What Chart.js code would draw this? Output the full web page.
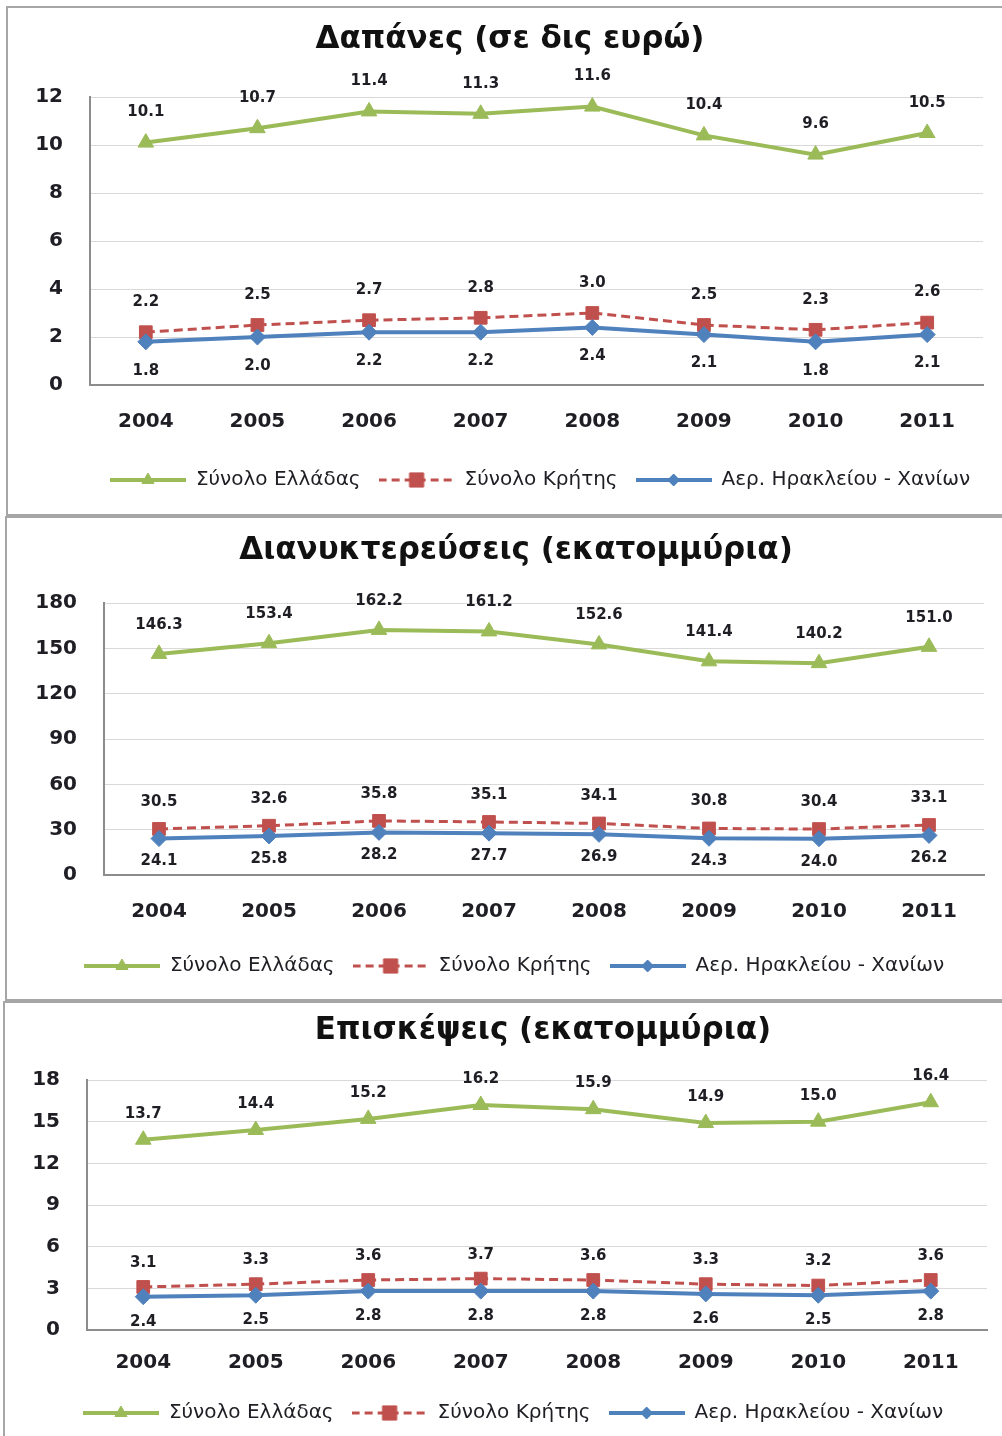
<!DOCTYPE html>
<html lang="el">
<head>
<meta charset="utf-8">
<title>Δαπάνες, διανυκτερεύσεις, επισκέψεις 2004-2011</title>
<script src="https://cdn.jsdelivr.net/npm/chart.js@4.4.1/dist/chart.umd.min.js"></script>
<style>
  html, body { margin: 0; padding: 0; background: #fff; overflow: hidden; }
  body { width: 1002px; height: 1436px; position: relative; }
  .panel { position: absolute; box-sizing: border-box; border: 2px solid #a6a6a6; border-right: none; }
  canvas { position: absolute; left: 0; }
</style>
</head>
<body>
<div class="panel" style="left:6px; top:6px; width:1100px; height:510px;"></div>
<div class="panel" style="left:5px; top:516px; width:1100px; height:485px;"></div>
<div class="panel" style="left:3px; top:1001px; width:1100px; height:500px;"></div>
<canvas id="chartDapanes" width="1002" height="507" style="top:7px;"></canvas>
<canvas id="chartDianyktereuseis" width="1002" height="481" style="top:518px;"></canvas>
<canvas id="chartEpiskepseis" width="1002" height="433" style="top:1003px;"></canvas>
<script>
// Έτη
const years = ['2004', '2005', '2006', '2007', '2008', '2009', '2010', '2011'];
const seriesNames = ['Σύνολο Ελλάδας', 'Σύνολο Κρήτης', 'Αερ. Ηρακλείου - Χανίων'];

// Δαπάνες (δις ευρώ)
const spendGreece  = [10.1, 10.7, 11.4, 11.3, 11.6, 10.4, 9.6, 10.5];
const spendCrete   = [2.2, 2.5, 2.7, 2.8, 3.0, 2.5, 2.3, 2.6];
const spendAirport = [1.8, 2.0, 2.2, 2.2, 2.4, 2.1, 1.8, 2.1];
const spendTicks   = [0, 2, 4, 6, 8, 10, 12];

// Διανυκτερεύσεις (εκατομμύρια)
const nightsGreece  = [146.3, 153.4, 162.2, 161.2, 152.6, 141.4, 140.2, 151.0];
const nightsCrete   = [30.5, 32.6, 35.8, 35.1, 34.1, 30.8, 30.4, 33.1];
const nightsAirport = [24.1, 25.8, 28.2, 27.7, 26.9, 24.3, 24.0, 26.2];
const nightsTicks   = [0, 30, 60, 90, 120, 150, 180];

// Επισκέψεις (εκατομμύρια)
const visitsGreece  = [13.7, 14.4, 15.2, 16.2, 15.9, 14.9, 15.0, 16.4];
const visitsCrete   = [3.1, 3.3, 3.6, 3.7, 3.6, 3.3, 3.2, 3.6];
const visitsAirport = [2.4, 2.5, 2.8, 2.8, 2.8, 2.6, 2.5, 2.8];
const visitsTicks   = [0, 3, 6, 9, 12, 15, 18];

Chart.defaults.font.family = '"DejaVu Sans", Verdana, sans-serif';

const GREEN = '#9BBB59', RED = '#C0504D', BLUE = '#4F81BD';
const TEXT = '#1e1e24';

// εικονίδια υπομνήματος: γραμμή με το σημάδι στη μέση
function legendIcon(color, dash, style, radius) {
  const c = document.createElement('canvas');
  c.width = 76; c.height = 18;
  const g = c.getContext('2d');
  g.strokeStyle = color;
  g.lineWidth = dash.length ? 3 : 4;
  g.setLineDash(dash);
  g.beginPath(); g.moveTo(0, 9); g.lineTo(76, 9); g.stroke();
  g.setLineDash([]);
  g.fillStyle = color;
  g.lineWidth = 1;
  Chart.helpers.drawPoint(g, {pointStyle: style, radius: radius, rotation: 0, borderWidth: 1}, 38, 9);
  return c;
}
const icons = [
  legendIcon(GREEN, [], 'triangle', 7),
  legendIcon(RED, [8, 5], 'rect', 10),
  legendIcon(BLUE, [], 'rectRot', 6)
];

// τιμές πάνω/κάτω από κάθε σημείο
const valueLabels = {
  id: 'valueLabels',
  afterDatasetsDraw(chart, args, opts) {
    const ctx = chart.ctx;
    ctx.save();
    ctx.font = 'bold 15px "DejaVu Sans"';
    ctx.fillStyle = TEXT;
    ctx.textAlign = 'center';
    ctx.textBaseline = 'middle';
    chart.data.datasets.forEach((ds, i) => {
      chart.getDatasetMeta(i).data.forEach((pt, j) => {
        ctx.fillText(ds.data[j].toFixed(1), pt.x, pt.y + opts.offsets[i]);
      });
    });
    ctx.restore();
  }
};

// τίτλος και υπόμνημα κεντραρισμένα σε δικό τους x
const blockShift = {
  id: 'blockShift',
  afterLayout(chart, args, opts) {
    [[chart.titleBlock, opts.titleX], [chart.legend, opts.legendX]].forEach(([box, x]) => {
      const dx = x - (box.left + box.right) / 2;
      box.left += dx;
      box.right += dx;
    });
  }
};

function makeChart(id, title, values, ticks, geo) {
  const titleSize = 31, titleLine = titleSize * 1.2;
  const legendFont = 20, legendPad = 18;
  const legendH = legendFont + legendPad + 10;
  const legendTop = geo.legendY - legendPad - legendFont / 2;
  const canvasH = document.getElementById(id).height;
  const padLeft = 5;

  return new Chart(document.getElementById(id), {
    type: 'line',
    data: {
      labels: years,
      datasets: [
        {
          label: seriesNames[0], data: values[0], order: 3,
          borderColor: GREEN, backgroundColor: GREEN, borderWidth: 4,
          pointStyle: 'triangle', pointRadius: 9, pointBorderWidth: 1, tension: 0
        },
        {
          label: seriesNames[1], data: values[1], order: 2,
          borderColor: RED, backgroundColor: RED, borderWidth: 3, borderDash: [9, 5],
          pointStyle: 'rect', pointRadius: 9, pointBorderWidth: 1, tension: 0
        },
        {
          label: seriesNames[2], data: values[2], order: 1,
          borderColor: BLUE, backgroundColor: BLUE, borderWidth: 4,
          pointStyle: 'rectRot', pointRadius: 8, pointBorderWidth: 1, tension: 0
        }
      ]
    },
    options: {
      responsive: false,
      animation: false,
      layout: {
        padding: { left: padLeft, right: 1002 - geo.right, top: 0, bottom: canvasH - legendTop - legendH }
      },
      plugins: {
        tooltip: { enabled: false },
        title: {
          display: true, text: title, color: '#111',
          font: { size: titleSize, weight: 'bold' },
          padding: { top: geo.titleY - titleLine / 2, bottom: geo.top - geo.titleY - titleLine / 2 }
        },
        legend: {
          position: 'bottom',
          labels: {
            usePointStyle: true, pointStyleWidth: 76, padding: legendPad,
            color: TEXT, font: { size: legendFont },
            generateLabels: (chart) => chart.data.datasets.map((ds, i) => ({
              text: ds.label, pointStyle: icons[i], datasetIndex: i,
              fillStyle: 'transparent', strokeStyle: 'transparent', lineWidth: 0, hidden: false, fontColor: TEXT
            }))
          }
        },
        valueLabels: { offsets: geo.offsets },
        blockShift: { titleX: geo.titleX, legendX: geo.legendX }
      },
      scales: {
        x: {
          offset: true,
          grid: { display: false, drawTicks: false },
          border: { color: '#8c8c8c', width: 2 },
          ticks: { color: TEXT, font: { size: 20, weight: 'bold' }, padding: geo.xLabelY - geo.bottom - 12 },
          afterFit: (s) => { s.height = legendTop - geo.bottom; }
        },
        y: {
          min: ticks[0], max: ticks[ticks.length - 1],
          afterBuildTicks: (s) => { s.ticks = ticks.map((v) => ({ value: v })); },
          grid: { color: '#d9d9d9', lineWidth: 1, drawTicks: false },
          border: { color: '#8c8c8c', width: 2 },
          ticks: { color: TEXT, font: { size: 20, weight: 'bold' }, padding: 27 },
          afterFit: (s) => { s.width = geo.left - padLeft; }
        }
      }
    },
    plugins: [valueLabels, blockShift]
  });
}

makeChart('chartDapanes', 'Δαπάνες (σε δις ευρώ)',
  [spendGreece, spendCrete, spendAirport], spendTicks,
  { left: 90, right: 983, top: 90, bottom: 378, titleX: 510, titleY: 33, xLabelY: 415, legendX: 540, legendY: 473, offsets: [-30, -30, 29] });

makeChart('chartDianyktereuseis', 'Διανυκτερεύσεις (εκατομμύρια)',
  [nightsGreece, nightsCrete, nightsAirport], nightsTicks,
  { left: 104, right: 984, top: 85, bottom: 357, titleX: 516, titleY: 33, xLabelY: 394, legendX: 514, legendY: 448, offsets: [-29, -27, 23] });

makeChart('chartEpiskepseis', 'Επισκέψεις (εκατομμύρια)',
  [visitsGreece, visitsCrete, visitsAirport], visitsTicks,
  { left: 87, right: 987, top: 77, bottom: 327, titleX: 543, titleY: 28, xLabelY: 360, legendX: 513, legendY: 410, offsets: [-26, -24, 25] });
</script>
</body>
</html>
